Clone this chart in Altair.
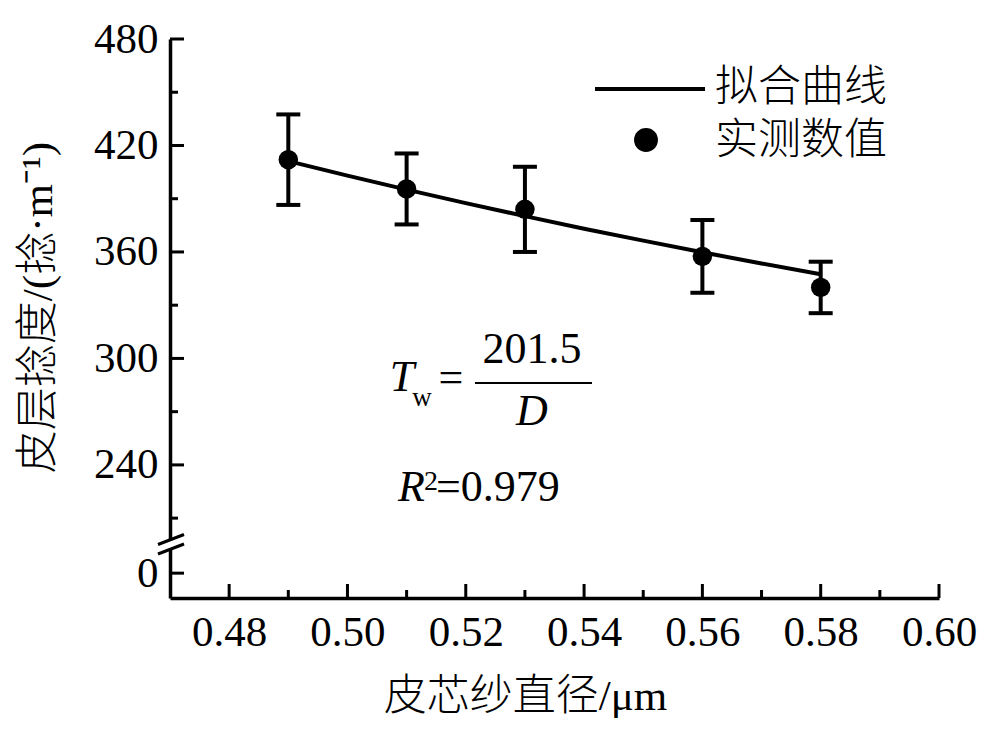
import altair as alt
import pandas as pd

# ---- data ----
diameter = [0.49, 0.51, 0.53, 0.56, 0.58]
twist = [412.0, 395.5, 384.0, 357.5, 340.0]
twist_err = [25.5, 20.0, 24.0, 20.5, 14.5]

fit_diameter = [0.49, 0.50, 0.51, 0.52, 0.53, 0.54, 0.55, 0.56, 0.57, 0.58]
fit_twist = [411.2, 403.0, 395.1, 387.5, 380.2, 373.1, 366.4, 359.8, 353.5, 347.4]

x_major = [0.48, 0.50, 0.52, 0.54, 0.56, 0.58, 0.60]
x_minor = [0.49, 0.51, 0.53, 0.55, 0.57, 0.59]
y_major = [480, 420, 360, 300, 240]
y_minor = [450, 390, 330, 270, 210]
ZERO_POS = 179  # where the "0" tick sits below the axis break

legend_labels = ["拟合曲线", "实测数值"]

# ---- layout / style ----
W, H = 769, 559
SERIF = "Liberation Serif, Times New Roman, serif"
CJK = "Liberation Serif, Noto Sans CJK SC"

xscale = alt.Scale(domain=[0.47, 0.60], nice=False, zero=False)
yscale = alt.Scale(domain=[165, 480], nice=False, zero=False)

xaxis = alt.Axis(
    values=x_major, format=".2f", title="皮芯纱直径/μm",
    ticks=False, tickSize=0, grid=False,
    domainColor="black", domainWidth=3.5,
    labelFont=SERIF, labelFontSize=43, labelColor="black", labelPadding=13,
    labelFlush=False, labelOverlap=False,
    titleFont=CJK, titleFontSize=43, titleFontWeight=300, titleColor="black",
    titleX=355, titleY=98, titleBaseline="middle", titleAlign="center",
)
yaxis = alt.Axis(
    values=y_major + [ZERO_POS], format="d",
    labelExpr=f"datum.value == {ZERO_POS} ? '0' : datum.label",
    title="皮层捻度/(捻·m⁻¹)",
    ticks=False, tickSize=0, grid=False,
    domainColor="black", domainWidth=3.5,
    labelFont=SERIF, labelFontSize=43, labelColor="black", labelPadding=12,
    labelFlush=False, labelOverlap=False,
    titleFont=CJK, titleFontSize=43, titleFontWeight=300, titleColor="black",
    titleX=-132, titleY=268, titleAngle=270, titleBaseline="middle", titleAlign="center",
)


def X(field):
    return alt.X(f"{field}:Q", scale=xscale, axis=xaxis)


def Y(field):
    return alt.Y(f"{field}:Q", scale=yscale, axis=yaxis)


pts_df = pd.DataFrame({
    "D": diameter,
    "T": twist,
    "lo": [t - e for t, e in zip(twist, twist_err)],
    "hi": [t + e for t, e in zip(twist, twist_err)],
})
caps_df = pd.DataFrame({
    "D": diameter + diameter,
    "T": [t + e for t, e in zip(twist, twist_err)] + [t - e for t, e in zip(twist, twist_err)],
})
fit_df = pd.DataFrame({"D": fit_diameter, "T": fit_twist})

fit = alt.Chart(fit_df).mark_line(color="black", strokeWidth=4).encode(x=X("D"), y=Y("T"))
bars = alt.Chart(pts_df).mark_rule(color="black", strokeWidth=4).encode(
    x=X("D"), y=Y("lo"), y2="hi")
caps = alt.Chart(caps_df).mark_rule(color="black", strokeWidth=4, xOffset=-12, x2Offset=12).encode(
    x=X("D"), x2="D", y=Y("T"))
pts = alt.Chart(pts_df).mark_circle(color="black", size=380, opacity=1).encode(x=X("D"), y=Y("T"))

# inward ticks
ymaj = alt.Chart(pd.DataFrame({"T": y_major + [ZERO_POS]})).mark_rule(color="black", strokeWidth=3).encode(
    y=Y("T"), x=alt.value(0), x2=alt.value(14))
ymin = alt.Chart(pd.DataFrame({"T": y_minor})).mark_rule(color="black", strokeWidth=3).encode(
    y=Y("T"), x=alt.value(0), x2=alt.value(8))
xmaj = alt.Chart(pd.DataFrame({"D": x_major})).mark_rule(color="black", strokeWidth=3).encode(
    x=X("D"), y=alt.value(H), y2=alt.value(H - 14))
xmin = alt.Chart(pd.DataFrame({"D": x_minor})).mark_rule(color="black", strokeWidth=3).encode(
    x=X("D"), y=alt.value(H), y2=alt.value(H - 8))

one = alt.Data(values=[{}])

# axis break
gap = alt.Chart(one).mark_rect(color="white").encode(
    x=alt.value(-4), x2=alt.value(4), y=alt.value(501), y2=alt.value(510))
brk1 = alt.Chart(one).mark_rule(color="black", strokeWidth=3).encode(
    x=alt.value(-12), x2=alt.value(14), y=alt.value(505.5), y2=alt.value(495.5))
brk2 = alt.Chart(one).mark_rule(color="black", strokeWidth=3).encode(
    x=alt.value(-12), x2=alt.value(14), y=alt.value(515), y2=alt.value(505))

# legend
leg_line = alt.Chart(one).mark_rule(color="black", strokeWidth=4).encode(
    x=alt.value(425), x2=alt.value(535), y=alt.value(50))
leg_pt = alt.Chart(one).mark_circle(color="black", size=570, opacity=1).encode(
    x=alt.value(476), y=alt.value(101))
leg_t1 = alt.Chart(one).mark_text(text=legend_labels[0], font=CJK, fontSize=43, fontWeight=300, align="left",
                                  baseline="middle", color="black").encode(x=alt.value(545), y=alt.value(49))
leg_t2 = alt.Chart(one).mark_text(text=legend_labels[1], font=CJK, fontSize=43, fontWeight=300, align="left",
                                  baseline="middle", color="black").encode(x=alt.value(545), y=alt.value(102))

# equation annotation
def txt(s, x, y, size=44, style="normal", align="center"):
    return alt.Chart(one).mark_text(text=s, font=SERIF, fontSize=size, fontStyle=style, align=align,
                                    baseline="alphabetic", color="black").encode(
        x=alt.value(x), y=alt.value(y))

eq = [
    txt("T", 232, 352, style="italic"),
    txt("w", 252, 367, size=27),
    txt("=", 281, 353),
    txt("201.5", 362, 324),
    txt("D", 362, 386, style="italic"),
    txt("R", 228, 462, style="italic", align="left"),
    txt("2", 254, 451, size=28, align="left"),
    txt("=0.979", 266, 462, align="left"),
]
frac = alt.Chart(one).mark_rule(color="black", strokeWidth=2).encode(
    x=alt.value(305), x2=alt.value(422), y=alt.value(344))

chart = alt.layer(
    fit, bars, caps, pts, ymaj, ymin, xmaj, xmin, gap, brk1, brk2,
    leg_line, leg_pt, leg_t1, leg_t2, frac, *eq
).properties(
    width=W, height=H,
    background="white",
    autosize=alt.AutoSizeParams(type="none"),
    padding={"left": 162, "top": 31, "right": 45, "bottom": 120},
).configure_view(strokeWidth=0, stroke="transparent")

chart.save("out.html", embed_options={"renderer": "svg", "actions": False})
